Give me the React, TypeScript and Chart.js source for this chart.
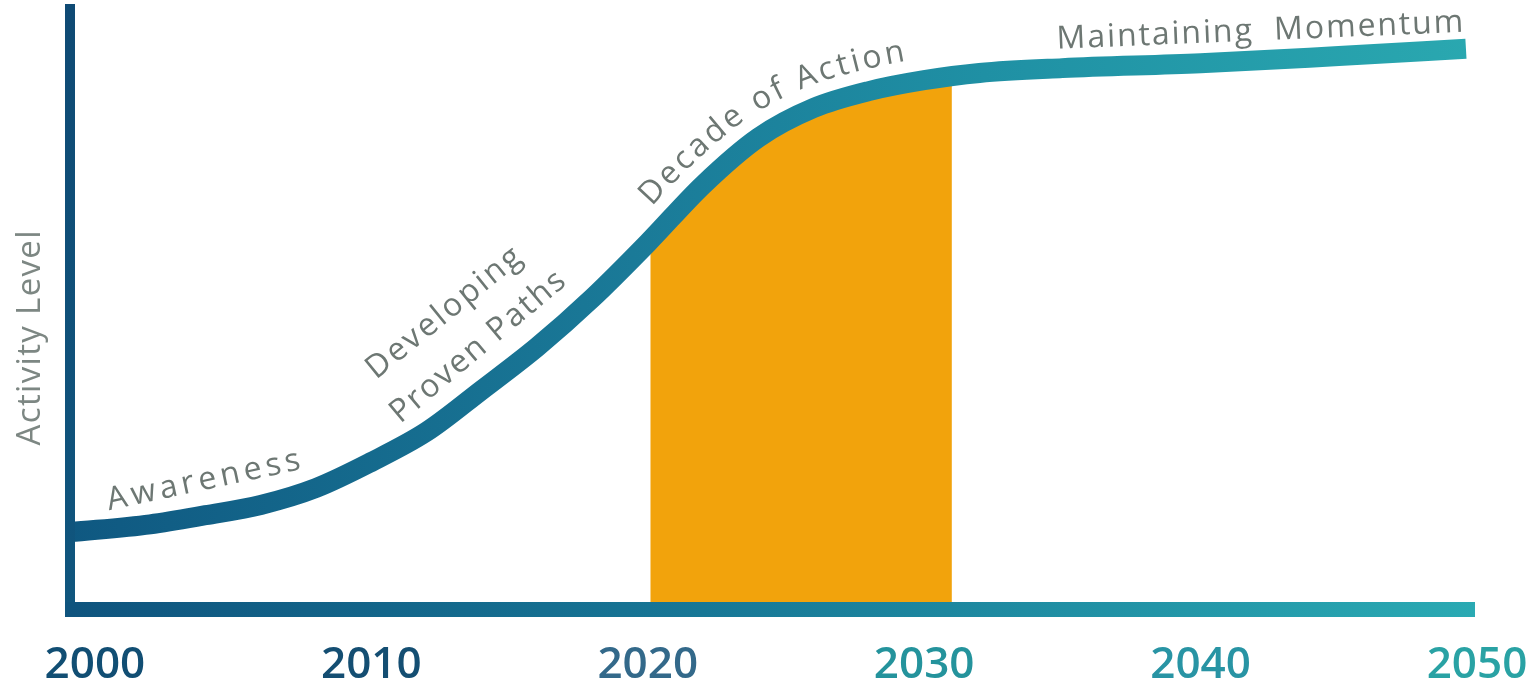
import React, { useEffect, useRef } from 'react';
import { Chart, registerables } from 'chart.js';

Chart.register(...registerables);

// ---- data ----
const YEARS = [1999.1, 2002, 2004, 2006, 2008, 2010, 2012, 2014, 2016, 2018, 2020, 2022, 2024, 2026, 2028, 2030, 2032, 2035, 2040, 2045, 2049.6];
const LEVEL = [12.7, 14.0, 15.5, 17.2, 20.0, 24.3, 29.3, 36.2, 43.3, 51.4, 60.5, 70.1, 77.9, 82.8, 85.6, 87.4, 88.6, 89.4, 90.2, 91.4, 92.6];
const TICK_YEARS = [2000, 2010, 2020, 2030, 2040, 2050];
const TICK_LABELS = ['2000', '2010', '2020', '2030', '2040', '2050'];
const TICK_COLORS = ['#114e73', '#144e72', '#33698a', '#24939c', '#2894a4', '#29a2a4'];
const ACTION_BAND = [2020.1, 2031.0];
const X_RANGE = [1999.1, 2050];
const Y_RANGE = [0, 100];
const AXIS_TITLE = 'Activity Level';

// ---- annotation layout (not data) ----
const PHASE_LABELS = [
  { text: 'Awareness', at: [2003.93, 21.2], angle: -12, width: 197 },
  { text: 'Developing', at: [2012.63, 48.9], angle: -39, width: 190 },
  { text: 'Proven Paths', at: [2013.86, 43.3], angle: -40, width: 218 },
  { text: 'Maintaining  Momentum', at: [2042.15, 95.5], angle: -2.4, width: 407 },
];
const CURVE_LABEL = { text: 'Decade of Action', startYear: 2020.7, offset: 22, width: 300 };

const TEXT_FAMILY = "'Open Sans', 'DejaVu Sans', sans-serif";
const TEXT_COLOR = '#6d7773';
const TITLE_COLOR = '#7d8783';
const ORANGE = '#f2a30c';

function drawStraight(ctx: CanvasRenderingContext2D, text: string, x: number, y: number, angleDeg: number, width: number, font: string, color: string) {
  ctx.save();
  ctx.font = font;
  const chars = Array.from(text);
  const ws = chars.map((c) => ctx.measureText(c).width);
  const total = ws.reduce((a, b) => a + b, 0);
  const sp = (width - total) / Math.max(chars.length - 1, 1);
  ctx.translate(x, y);
  ctx.rotate((angleDeg * Math.PI) / 180);
  ctx.fillStyle = color;
  ctx.textBaseline = 'middle';
  ctx.textAlign = 'left';
  let cx = -width / 2;
  chars.forEach((c, i) => {
    ctx.fillText(c, cx, 0);
    cx += ws[i] + sp;
  });
  ctx.restore();
}

function curveSamples(points: any[]) {
  const out: { x: number; y: number }[] = [];
  for (let i = 0; i < points.length - 1; i++) {
    const a = points[i], b = points[i + 1];
    const c1x = a.cp2x ?? a.x, c1y = a.cp2y ?? a.y, c2x = b.cp1x ?? b.x, c2y = b.cp1y ?? b.y;
    const n = 30;
    for (let k = 0; k < n; k++) {
      const t = k / n, u = 1 - t;
      out.push({
        x: u * u * u * a.x + 3 * u * u * t * c1x + 3 * u * t * t * c2x + t * t * t * b.x,
        y: u * u * u * a.y + 3 * u * u * t * c1y + 3 * u * t * t * c2y + t * t * t * b.y,
      });
    }
  }
  const last = points[points.length - 1];
  out.push({ x: last.x, y: last.y });
  return out;
}

function drawOnCurve(ctx: CanvasRenderingContext2D, samples: { x: number; y: number }[], text: string, startX: number, offset: number, width: number, font: string, color: string) {
  const off = samples.map((p, i) => {
    const a = samples[Math.max(i - 1, 0)], b = samples[Math.min(i + 1, samples.length - 1)];
    const dx = b.x - a.x, dy = b.y - a.y, len = Math.hypot(dx, dy) || 1;
    return { x: p.x + (offset * dy) / len, y: p.y - (offset * dx) / len };
  });
  const cum = [0];
  for (let i = 1; i < off.length; i++) cum.push(cum[i - 1] + Math.hypot(off[i].x - off[i - 1].x, off[i].y - off[i - 1].y));
  let i0 = samples.findIndex((p) => p.x >= startX);
  if (i0 < 0) i0 = 0;
  const at = (d: number) => {
    let j = 0;
    while (j < cum.length - 2 && cum[j + 1] < d) j++;
    const seg = cum[j + 1] - cum[j] || 1;
    const t = Math.min(Math.max((d - cum[j]) / seg, 0), 1);
    const p = off[j], q = off[j + 1];
    return { x: p.x + (q.x - p.x) * t, y: p.y + (q.y - p.y) * t, ang: Math.atan2(q.y - p.y, q.x - p.x) };
  };
  ctx.save();
  ctx.font = font;
  ctx.fillStyle = color;
  ctx.textAlign = 'center';
  ctx.textBaseline = 'alphabetic';
  const chars = Array.from(text);
  const ws = chars.map((c) => ctx.measureText(c).width);
  const total = ws.reduce((a, b) => a + b, 0);
  const sp = (width - total) / Math.max(chars.length - 1, 1);
  let s = cum[i0];
  chars.forEach((c, i) => {
    const m = at(s + ws[i] / 2);
    ctx.save();
    ctx.translate(m.x, m.y);
    ctx.rotate(m.ang);
    ctx.fillText(c, 0, 0);
    ctx.restore();
    s += ws[i] + sp;
  });
  ctx.restore();
}

const decorPlugin = {
  id: 'decor',
  beforeDatasetsDraw(chart: any) {
    const { ctx, chartArea } = chart;
    const meta = chart.getDatasetMeta(0);
    const line = meta.dataset;
    const pts = meta.data;
    const xs = chart.scales.x, ys = chart.scales.y;
    const x0 = xs.getPixelForValue(ACTION_BAND[0]);
    const x1 = xs.getPixelForValue(ACTION_BAND[1]);
    const base = ys.getPixelForValue(Y_RANGE[0]);
    ctx.save();
    ctx.beginPath();
    ctx.rect(x0, chartArea.top - 30, x1 - x0, base - chartArea.top + 30);
    ctx.clip();
    ctx.beginPath();
    if (line && typeof line.path === 'function') {
      line.path(ctx);
    } else {
      pts.forEach((p: any, i: number) => (i ? ctx.lineTo(p.x, p.y) : ctx.moveTo(p.x, p.y)));
    }
    ctx.lineTo(pts[pts.length - 1].x, base);
    ctx.lineTo(pts[0].x, base);
    ctx.closePath();
    ctx.fillStyle = ORANGE;
    ctx.fill();
    ctx.restore();
  },
  afterDatasetsDraw(chart: any) {
    const { ctx, chartArea } = chart;
    const xs = chart.scales.x, ys = chart.scales.y;
    const { left, right, top, bottom } = chartArea;
    ctx.save();
    // y axis line
    const yg = ctx.createLinearGradient(0, top, 0, bottom);
    yg.addColorStop(0, '#0f4a74');
    yg.addColorStop(1, '#10567e');
    ctx.fillStyle = yg;
    ctx.fillRect(left - 5, top, 10, bottom + 8 - top);
    // x axis line
    const xg = ctx.createLinearGradient(left, 0, right, 0);
    xg.addColorStop(0, '#0f547e');
    xg.addColorStop(0.45, '#177796');
    xg.addColorStop(1, '#2aaab3');
    ctx.fillStyle = xg;
    ctx.fillRect(left - 5, bottom - 7, right - 2 - (left - 5), 15);
    ctx.restore();

    // phase labels
    const font = `400 32px ${TEXT_FAMILY}`;
    PHASE_LABELS.forEach((l) => {
      drawStraight(ctx, l.text, xs.getPixelForValue(l.at[0]), ys.getPixelForValue(l.at[1]), l.angle, l.width, font, TEXT_COLOR);
    });
    const samples = curveSamples(chart.getDatasetMeta(0).data);
    drawOnCurve(ctx, samples, CURVE_LABEL.text, xs.getPixelForValue(CURVE_LABEL.startYear), CURVE_LABEL.offset, CURVE_LABEL.width, font, TEXT_COLOR);

    // axis title
    drawStraight(ctx, AXIS_TITLE, left - 39, ys.getPixelForValue(44.8), -90, 215, `400 33px ${TEXT_FAMILY}`, TITLE_COLOR);
  },
};

export default function App() {
  const ref = useRef<HTMLCanvasElement | null>(null);
  useEffect(() => {
    if (!ref.current) return;
    const chart = new Chart(ref.current, {
      type: 'line',
      data: {
        datasets: [
          {
            data: YEARS.map((x, i) => ({ x, y: LEVEL[i] })),
            borderWidth: 20,
            borderColor: (c: any) => {
              const a = c.chart.chartArea;
              if (!a) return '#1a7393';
              const g = c.chart.ctx.createLinearGradient(a.left, 0, a.right, 0);
              g.addColorStop(0, '#0f5881');
              g.addColorStop(0.4, '#1a7a98');
              g.addColorStop(0.65, '#1f90a4');
              g.addColorStop(1, '#2aa8b0');
              return g;
            },
            pointRadius: 0,
            cubicInterpolationMode: 'monotone',
            fill: false,
            borderCapStyle: 'butt',
            borderJoinStyle: 'round',
          } as any,
        ],
      },
      options: {
        animation: false,
        responsive: true,
        maintainAspectRatio: false,
        events: [],
        layout: { padding: { left: 70, right: 50, top: 4, bottom: 0 } },
        plugins: { legend: { display: false }, tooltip: { enabled: false } },
        scales: {
          x: {
            type: 'linear',
            min: X_RANGE[0],
            max: X_RANGE[1],
            grid: { display: false, drawTicks: false },
            border: { display: false },
            afterBuildTicks: (scale: any) => {
              scale.ticks = TICK_YEARS.map((v) => ({ value: v }));
            },
            afterFit: (scale: any) => {
              scale.height = 78;
              scale.paddingLeft = 0;
              scale.paddingRight = 0;
            },
            ticks: {
              autoSkip: false,
              maxRotation: 0,
              padding: 34,
              font: { family: TEXT_FAMILY, weight: '600', size: 44, lineHeight: 1 },
              color: (c: any) => TICK_COLORS[c.index] || TICK_COLORS[0],
              callback: (_v: any, i: number) => TICK_LABELS[i],
            },
          },
          y: { type: 'linear', display: false, min: Y_RANGE[0], max: Y_RANGE[1] },
        },
      } as any,
      plugins: [decorPlugin],
    });
    return () => chart.destroy();
  }, []);
  return (
    <div style={{ position: 'fixed', left: 0, top: 0, width: 1527, height: 687, background: '#fff' }}>
      <canvas ref={ref} />
    </div>
  );
}
